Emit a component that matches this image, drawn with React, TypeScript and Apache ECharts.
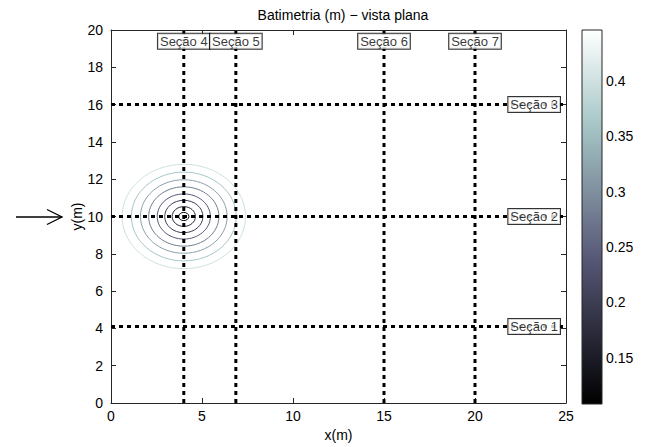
import React, { useEffect, useRef } from "react";
import * as echarts from "echarts";

const chartTitle = "Batimetria (m) − vista plana";
const xAxisName = "x(m)";
const yAxisName = "y(m)";
const xMin = 0;
const xMax = 25;
const yMin = 0;
const yMax = 20;
const xTickStep = 5;
const yTickStep = 2;

const horizontalSectionNames = ["Seção 1", "Seção 2", "Seção 3"];
const horizontalSectionY = [4.1, 10, 16];
const horizontalLabelX = 23.25;

const verticalSectionNames = ["Seção 4", "Seção 5", "Seção 6", "Seção 7"];
const verticalSectionX = [4, 6.86, 15, 20];
const verticalLabelY = 19.4;

const moundCenter = [4, 10];
const contourLevels = [0.4, 0.36, 0.32, 0.28, 0.24, 0.2, 0.16, 0.12];
const contourRadiusX = [3.39, 2.88, 2.38, 1.93, 1.46, 1.05, 0.64, 0.28];
const contourRadiusY = [2.8, 2.38, 1.97, 1.59, 1.21, 0.87, 0.53, 0.22];

const colorbarMin = 0.108;
const colorbarMax = 0.446;
const colorbarTicks = [0.15, 0.2, 0.25, 0.3, 0.35, 0.4];

const FONT = "Liberation Sans, Arial, Helvetica, sans-serif";
const AXIS_COLOR = "#262626";

function bone(t: number): string {
  const u = Math.max(0, Math.min(1, t));
  const hr = Math.min(1, u / 0.375);
  const hg = Math.max(0, Math.min(1, (u - 0.375) / 0.375));
  const hb = Math.max(0, Math.min(1, (u - 0.75) / 0.25));
  const r = (7 * u + hb) / 8;
  const g = (7 * u + hg) / 8;
  const b = (7 * u + hr) / 8;
  return `rgb(${Math.round(r * 255)},${Math.round(g * 255)},${Math.round(b * 255)})`;
}

function levelColor(v: number): string {
  return bone((v - colorbarMin) / (colorbarMax - colorbarMin));
}

export default function App() {
  const ref = useRef<HTMLDivElement | null>(null);

  useEffect(() => {
    if (!ref.current) return;
    const chart = echarts.init(ref.current, undefined, { renderer: "svg" });

    const sectionLineStyle = { color: "#000", width: 3, type: [4, 4] as any, cap: "butt" as any };

    const sectionSeries: any[] = [];
    horizontalSectionY.forEach((y, i) => {
      sectionSeries.push({
        type: "line",
        name: horizontalSectionNames[i],
        xAxisIndex: 0,
        yAxisIndex: 0,
        data: [
          [xMin, y],
          [xMax, y],
        ],
        symbol: "none",
        silent: true,
        lineStyle: sectionLineStyle,
        z: 3,
      });
    });
    verticalSectionX.forEach((x, i) => {
      sectionSeries.push({
        type: "line",
        name: verticalSectionNames[i],
        xAxisIndex: 0,
        yAxisIndex: 0,
        data: [
          [x, yMin],
          [x, yMax],
        ],
        symbol: "none",
        silent: true,
        lineStyle: sectionLineStyle,
        z: 3,
      });
    });

    const labelData = [
      ...horizontalSectionNames.map((n, i) => ({ name: n, value: [horizontalLabelX, horizontalSectionY[i]] })),
      ...verticalSectionNames.map((n, i) => ({ name: n, value: [verticalSectionX[i], verticalLabelY] })),
    ];

    const contourData = contourLevels.map((lv, i) => [
      moundCenter[0],
      moundCenter[1],
      contourRadiusX[i],
      contourRadiusY[i],
      lv,
    ]);

    const boneStops = [0, 0.125, 0.25, 0.375, 0.5, 0.625, 0.75, 0.875, 1].map((o) => ({
      offset: o,
      color: bone(o),
    }));

    const mainXAxisBase = {
      type: "value",
      gridIndex: 0,
      min: xMin,
      max: xMax,
      interval: xTickStep,
      axisLine: { show: true, onZero: false, lineStyle: { color: AXIS_COLOR, width: 1 } },
      axisTick: { show: true, inside: true, length: 5, lineStyle: { color: AXIS_COLOR } },
      splitLine: { show: false },
    };
    const mainYAxisBase = {
      type: "value",
      gridIndex: 0,
      min: yMin,
      max: yMax,
      interval: yTickStep,
      axisLine: { show: true, onZero: false, lineStyle: { color: AXIS_COLOR, width: 1 } },
      axisTick: { show: true, inside: true, length: 5, lineStyle: { color: AXIS_COLOR } },
      splitLine: { show: false },
    };

    chart.setOption({
      animation: false,
      backgroundColor: "#fff",
      textStyle: { fontFamily: FONT },
      title: {
        text: chartTitle,
        left: 338,
        top: 3,
        textAlign: "center",
        textStyle: { fontSize: 14, fontWeight: "normal", color: "#000", fontFamily: FONT },
      },
      grid: [
        { left: 111, top: 30, width: 455, height: 374 },
        { left: 582, top: 30, width: 20, height: 374 },
      ],
      xAxis: [
        {
          ...mainXAxisBase,
          position: "bottom",
          axisLabel: { show: true, color: "#000", fontSize: 14, margin: 6, fontFamily: FONT },
          name: xAxisName,
          nameLocation: "middle",
          nameGap: 25,
          nameMoveOverlap: false,
          nameTextStyle: { color: "#000", fontSize: 14, fontFamily: FONT },
        },
        {
          ...mainXAxisBase,
          position: "top",
          axisLabel: { show: false },
        },
        {
          type: "value",
          gridIndex: 1,
          min: 0,
          max: 1,
          show: false,
        },
      ],
      yAxis: [
        {
          ...mainYAxisBase,
          position: "left",
          axisLabel: { show: true, color: "#000", fontSize: 14, margin: 8, fontFamily: FONT },
          name: yAxisName,
          nameLocation: "middle",
          nameGap: 27,
          nameRotate: 90,
          nameMoveOverlap: false,
          nameTextStyle: { color: "#000", fontSize: 14, fontFamily: FONT },
        },
        {
          ...mainYAxisBase,
          position: "right",
          axisLabel: { show: false },
        },
        {
          type: "value",
          gridIndex: 1,
          position: "left",
          min: colorbarMin,
          max: colorbarMax,
          axisLine: { show: false },
          axisTick: { show: true, inside: true, length: 4, customValues: colorbarTicks, lineStyle: { color: AXIS_COLOR } },
          axisLabel: { show: false },
          splitLine: { show: false },
        },
        {
          type: "value",
          gridIndex: 1,
          position: "right",
          min: colorbarMin,
          max: colorbarMax,
          axisLine: { show: false },
          axisTick: { show: true, inside: true, length: 4, customValues: colorbarTicks, lineStyle: { color: AXIS_COLOR } },
          axisLabel: {
            show: true,
            customValues: colorbarTicks,
            color: "#000",
            fontSize: 14,
            margin: 4,
            fontFamily: FONT,
            formatter: (v: number) => String(Math.round(v * 100) / 100),
          },
          splitLine: { show: false },
        },
      ],
      series: [
        {
          type: "custom",
          name: "contours",
          xAxisIndex: 0,
          yAxisIndex: 0,
          silent: true,
          z: 2,
          data: contourData,
          renderItem: (params: any, api: any) => {
            const c = api.coord([api.value(0), api.value(1)]);
            const s = api.size([api.value(2), api.value(3)]);
            return {
              type: "ellipse",
              shape: { cx: c[0], cy: c[1], rx: s[0], ry: s[1] },
              style: { fill: "none", stroke: levelColor(api.value(4)), lineWidth: 1 },
            };
          },
        },
        ...sectionSeries,
        {
          type: "scatter",
          name: "labels",
          xAxisIndex: 0,
          yAxisIndex: 0,
          symbolSize: 1,
          silent: true,
          itemStyle: { color: "rgba(0,0,0,0)" },
          z: 6,
          data: labelData,
          label: {
            show: true,
            position: "inside",
            formatter: "{b}",
            color: "#000",
            fontSize: 13,
            fontFamily: FONT,
            backgroundColor: "#fff",
            borderColor: "#000",
            borderWidth: 1,
            padding: [1, 2, 0, 2],
            lineHeight: 14,
          },
        },
        {
          type: "custom",
          name: "colorbar",
          xAxisIndex: 2,
          yAxisIndex: 2,
          silent: true,
          z: 2,
          data: [[0, colorbarMin, 1, colorbarMax]],
          renderItem: (params: any, api: any) => {
            const p0 = api.coord([api.value(0), api.value(1)]);
            const p1 = api.coord([api.value(2), api.value(3)]);
            return {
              type: "rect",
              shape: { x: p0[0], y: p1[1], width: p1[0] - p0[0], height: p0[1] - p1[1] },
              style: {
                fill: new echarts.graphic.LinearGradient(0, 1, 0, 0, boneStops),
                stroke: AXIS_COLOR,
                lineWidth: 1,
              },
            };
          },
        },
      ],
      graphic: [
        {
          type: "line",
          shape: { x1: 16, y1: 217, x2: 62, y2: 217 },
          style: { stroke: "#000", lineWidth: 1.3 },
        },
        {
          type: "polyline",
          shape: {
            points: [
              [47, 209.5],
              [62, 217],
              [47, 224.5],
            ],
          },
          style: { stroke: "#000", fill: null, lineWidth: 1.3 },
        },
      ],
    });

    return () => chart.dispose();
  }, []);

  return (
    <div
      ref={ref}
      style={{ position: "fixed", left: 0, top: 0, width: 650, height: 447, background: "#fff" }}
    />
  );
}
